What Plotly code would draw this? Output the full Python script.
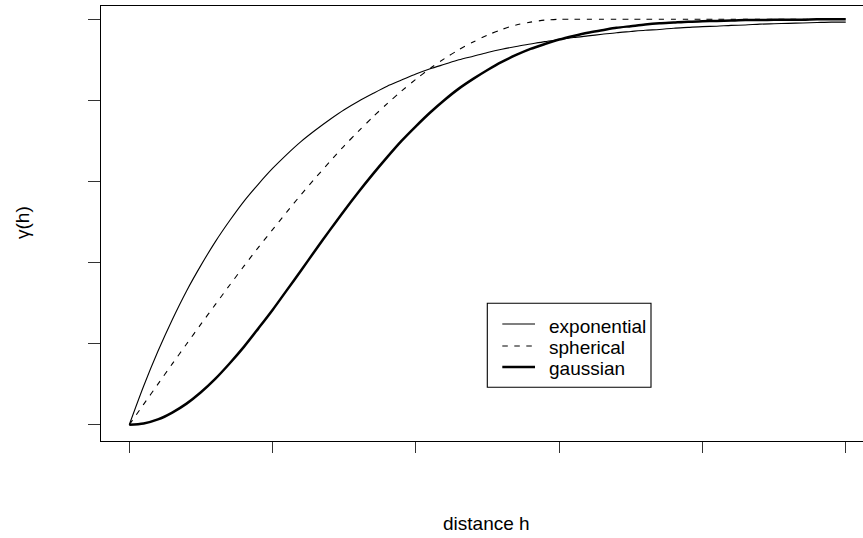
import plotly.graph_objects as go

# distance h (x values)
h = [0.0, 0.1, 0.2, 0.3, 0.4, 0.5, 0.6, 0.7, 0.8, 0.9,
     1.0, 1.1, 1.2, 1.3, 1.4, 1.5, 1.6, 1.7, 1.8, 1.9,
     2.0, 2.1, 2.2, 2.3, 2.4, 2.5, 2.6, 2.7, 2.8, 2.9,
     3.0, 3.1, 3.2, 3.3, 3.4, 3.5, 3.6, 3.7, 3.8, 3.9,
     4.0, 4.1, 4.2, 4.3, 4.4, 4.5, 4.6, 4.7, 4.8, 4.9, 5.0]

exponential = [0.000, 0.095, 0.181, 0.259, 0.330, 0.393, 0.451, 0.503, 0.551, 0.593,
               0.632, 0.667, 0.699, 0.727, 0.753, 0.777, 0.798, 0.817, 0.835, 0.850,
               0.865, 0.878, 0.889, 0.900, 0.909, 0.918, 0.926, 0.933, 0.939, 0.945,
               0.950, 0.955, 0.959, 0.963, 0.967, 0.970, 0.973, 0.975, 0.978, 0.980,
               0.982, 0.983, 0.985, 0.986, 0.988, 0.989, 0.990, 0.991, 0.992, 0.993, 0.993]

spherical = [0.000, 0.050, 0.100, 0.150, 0.199, 0.248, 0.296, 0.344, 0.391, 0.437,
             0.481, 0.525, 0.568, 0.609, 0.649, 0.688, 0.724, 0.759, 0.792, 0.823,
             0.852, 0.879, 0.903, 0.925, 0.944, 0.961, 0.975, 0.986, 0.993, 0.998,
             1.000, 1.000, 1.000, 1.000, 1.000, 1.000, 1.000, 1.000, 1.000, 1.000,
             1.000, 1.000, 1.000, 1.000, 1.000, 1.000, 1.000, 1.000, 1.000, 1.000, 1.000]

gaussian = [0.000, 0.003, 0.013, 0.030, 0.052, 0.080, 0.113, 0.151, 0.192, 0.237,
            0.283, 0.332, 0.381, 0.431, 0.480, 0.528, 0.574, 0.618, 0.660, 0.700,
            0.736, 0.770, 0.801, 0.829, 0.853, 0.875, 0.895, 0.912, 0.927, 0.939,
            0.950, 0.959, 0.967, 0.973, 0.979, 0.983, 0.987, 0.990, 0.992, 0.994,
            0.995, 0.996, 0.997, 0.998, 0.998, 0.999, 0.999, 0.999, 1.000, 1.000, 1.000]

x_ticks = [0, 1, 2, 3, 4, 5]
y_ticks = [0, 0.2, 0.4, 0.6, 0.8, 1.0]

series_names = ["exponential", "spherical", "gaussian"]
x_title = "distance h"
y_title = "γ(h)"

FONT = "Liberation Sans, Arial, Helvetica, sans-serif"
W, H = 863, 538
L, R, T, B = 101, 0, 6, 97
PW, PH = W - L - R, H - T - B

def px(xp):
    return (xp - L) / PW

def py(yp):
    return (H - B - yp) / PH

styles = {
    "exponential": dict(color="black", width=1.1, dash="solid"),
    "spherical": dict(color="black", width=1.1, dash="5.5px,6.5px"),
    "gaussian": dict(color="black", width=2.5, dash="solid"),
}
data = {"exponential": exponential, "spherical": spherical, "gaussian": gaussian}

fig = go.Figure()
for name in series_names:
    fig.add_trace(go.Scatter(x=h, y=data[name], mode="lines", name=name,
                             line=dict(**styles[name], shape="spline", smoothing=0.8),
                             showlegend=False, hoverinfo="skip"))

x_per_unit = 143.3
xr0 = -0.2 + (L - 100.6) / x_per_unit
fig.update_xaxes(range=[xr0, xr0 + PW / x_per_unit], tickvals=x_ticks,
                 showticklabels=False, ticks="outside", ticklen=11, tickwidth=1,
                 tickcolor="#333", showgrid=False, zeroline=False,
                 showline=True, linecolor="black", linewidth=1.2, mirror=True)
fig.update_yaxes(range=[-0.0402, 1.0328], tickvals=y_ticks,
                 showticklabels=False, ticks="outside", ticklen=12, tickwidth=1,
                 tickcolor="#333", showgrid=False, zeroline=False,
                 showline=True, linecolor="black", linewidth=1.2, mirror=False)

shapes = []
# legend box
shapes.append(dict(type="rect", xref="paper", yref="paper",
                   x0=px(487.3), x1=px(651), y0=py(387.3), y1=py(303.3),
                   line=dict(color="black", width=1.1), fillcolor="white", layer="above"))
row_line_y = [324, 346, 367]
row_text_y = [326.5, 347.5, 368.5]
annotations = []
for i, name in enumerate(series_names):
    st = styles[name]
    shapes.append(dict(type="line", xref="paper", yref="paper",
                       x0=px(502.3), x1=px(535), y0=py(row_line_y[i]), y1=py(row_line_y[i]),
                       line=dict(color="black", width=st["width"], dash=st["dash"]), layer="above"))
    annotations.append(dict(text=name, xref="paper", yref="paper", x=px(547), y=py(row_text_y[i]),
                            xanchor="left", yanchor="middle", showarrow=False,
                            font=dict(family=FONT, size=19, color="black")))

annotations.append(dict(text=x_title, xref="paper", yref="paper", x=px(487), y=py(523),
                        xanchor="center", yanchor="middle", showarrow=False,
                        font=dict(family=FONT, size=19, color="black")))
annotations.append(dict(text=y_title, xref="paper", yref="paper", x=px(22), y=py(223),
                        xanchor="center", yanchor="middle", showarrow=False, textangle=-90,
                        font=dict(family=FONT, size=19, color="black")))

fig.update_layout(width=W, height=H, margin=dict(l=L, r=R, t=T, b=B, pad=0, autoexpand=False),
                  plot_bgcolor="white", paper_bgcolor="white",
                  shapes=shapes, annotations=annotations, showlegend=False,
                  hovermode=False, font=dict(family=FONT))

fig.write_html("out.html", config={"displayModeBar": False, "staticPlot": True},
               post_script="document.body.style.margin='0';document.body.style.padding='0';"
                           "document.body.style.overflow='hidden';")
